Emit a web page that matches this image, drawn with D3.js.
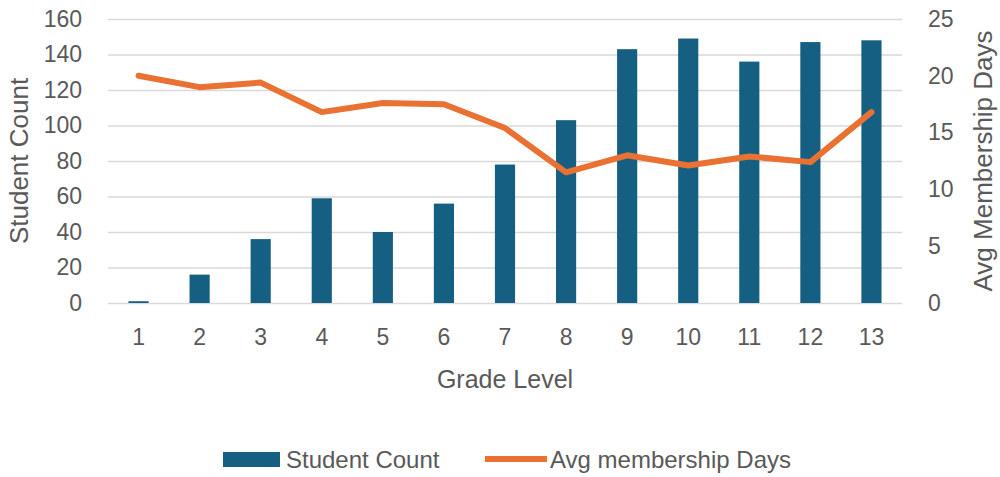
<!DOCTYPE html>
<html>
<head>
<meta charset="utf-8">
<script src="https://cdn.jsdelivr.net/npm/d3@7"></script>
<style>
  html, body { margin: 0; padding: 0; background: #ffffff; }
  svg { display: block; }
  text { font-family: "Liberation Sans", Arial, sans-serif; fill: #595959; }
</style>
</head>
<body>
<svg id="chart" width="1000" height="477"></svg>
<script>
const grades = ["1","2","3","4","5","6","7","8","9","10","11","12","13"];
const studentCount = [1, 16, 36, 59, 40, 56, 78, 103, 143, 149, 136, 147, 148];
const avgMembershipDays = [20.0, 19.0, 19.4, 16.8, 17.6, 17.5, 15.4, 11.5, 13.0, 12.1, 12.9, 12.4, 16.8];
const leftTicks = [0, 20, 40, 60, 80, 100, 120, 140, 160];
const rightTicks = [0, 5, 10, 15, 20, 25];

const barColor = "#156082";
const lineColor = "#E97132";
const gridColor = "#d9d9d9";

const svg = d3.select("#chart");
const plot = { left: 108, right: 902, top: 19, bottom: 303 };

const x = d3.scaleBand().domain(grades).range([plot.left, plot.right])
  .paddingInner(0.67).paddingOuter(0.335);
const yL = d3.scaleLinear().domain([0, 160]).range([plot.bottom, plot.top]);
const yR = d3.scaleLinear().domain([0, 25]).range([plot.bottom, plot.top]);

// gridlines
svg.append("g").selectAll("line").data(leftTicks).join("line")
  .attr("x1", plot.left).attr("x2", plot.right)
  .attr("y1", d => yL(d) + 0.5).attr("y2", d => yL(d) + 0.5)
  .attr("stroke", gridColor).attr("stroke-width", 1.3);

// left axis labels
const gL = svg.append("g").attr("transform", `translate(82,0)`)
  .call(d3.axisLeft(yL).tickValues(leftTicks).tickSize(0).tickPadding(0));
gL.select(".domain").remove();
gL.selectAll("text").attr("font-size", 23).style("fill", "#595959")
  .attr("font-family", "Liberation Sans, Arial, sans-serif");

// right axis labels
const gR = svg.append("g").attr("transform", `translate(928,0)`)
  .call(d3.axisRight(yR).tickValues(rightTicks).tickSize(0).tickPadding(0));
gR.select(".domain").remove();
gR.selectAll("text").attr("font-size", 23).style("fill", "#595959")
  .attr("font-family", "Liberation Sans, Arial, sans-serif");

// bottom axis labels
const gB = svg.append("g").attr("transform", `translate(0,${plot.bottom})`)
  .call(d3.axisBottom(x).tickSize(0).tickPadding(0));
gB.select(".domain").remove();
gB.selectAll("text").attr("font-size", 23).attr("dy", null).attr("y", 42)
  .style("fill", "#595959").attr("font-family", "Liberation Sans, Arial, sans-serif");

// bars
svg.append("g").selectAll("rect").data(grades).join("rect")
  .attr("x", d => x(d))
  .attr("width", x.bandwidth())
  .attr("y", (d, i) => yL(studentCount[i]))
  .attr("height", (d, i) => yL(0) - yL(studentCount[i]))
  .attr("fill", barColor);

// line
const line = d3.line()
  .x((d, i) => x(grades[i]) + x.bandwidth() / 2)
  .y(d => yR(d));
svg.append("path").datum(avgMembershipDays)
  .attr("d", line)
  .attr("fill", "none")
  .attr("stroke", lineColor)
  .attr("stroke-width", 6)
  .attr("stroke-linejoin", "round")
  .attr("stroke-linecap", "round");

// axis titles
svg.append("text")
  .attr("transform", `translate(28,${(plot.top + plot.bottom) / 2}) rotate(-90)`)
  .attr("text-anchor", "middle")
  .attr("font-size", 26)
  .text("Student Count");

svg.append("text")
  .attr("transform", `translate(992,${(plot.top + plot.bottom) / 2}) rotate(-90)`)
  .attr("text-anchor", "middle")
  .attr("font-size", 26)
  .text("Avg Membership Days");

svg.append("text")
  .attr("x", (plot.left + plot.right) / 2)
  .attr("y", 388)
  .attr("text-anchor", "middle")
  .attr("font-size", 25)
  .text("Grade Level");

// legend
const lg = svg.append("g");
lg.append("rect").attr("x", 223).attr("y", 452).attr("width", 57).attr("height", 15).attr("fill", barColor);
lg.append("text").attr("x", 286).attr("y", 468).attr("font-size", 24).text("Student Count");
lg.append("line").attr("x1", 485).attr("x2", 547).attr("y1", 459).attr("y2", 459)
  .attr("stroke", lineColor).attr("stroke-width", 6);
lg.append("text").attr("x", 550).attr("y", 468).attr("font-size", 24).text("Avg membership Days");
</script>
</body>
</html>
